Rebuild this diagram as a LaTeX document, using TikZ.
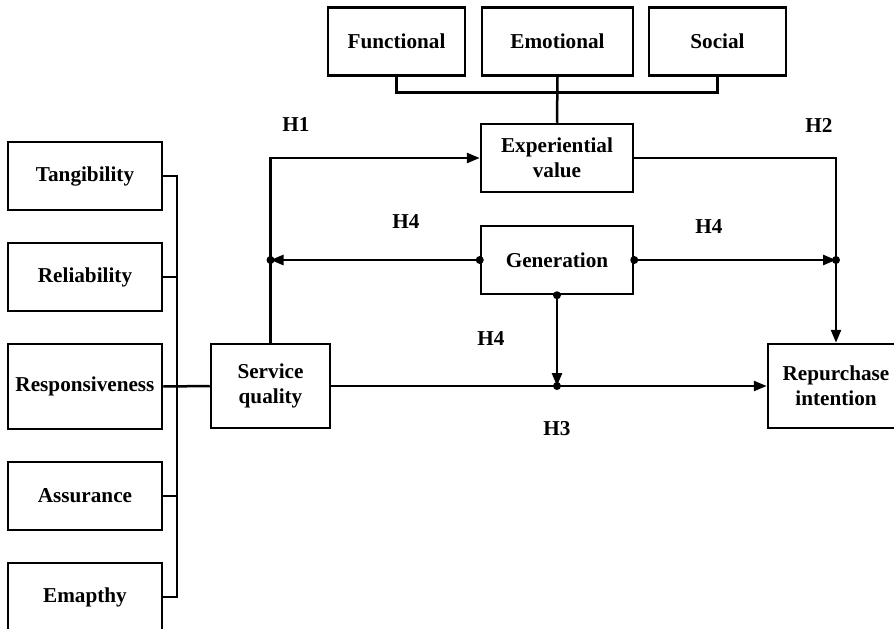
\documentclass[tikz,border=0pt]{standalone}
\usepackage{fontspec}
\setmainfont{Liberation Serif}
\usetikzlibrary{arrows.meta}

\begin{document}
\begin{tikzpicture} [x=1pt, y=-1pt, line width=2.5pt,
  box/.style={draw, align=center, inner sep=0pt, font=\fontsize{21.2}{25}\selectfont\bfseries},
  lab/.style={font=\fontsize{21.2}{25}\selectfont\bfseries},
  arr/.style={-{Triangle[length=13pt,width=10pt]}},
  dot/.style={circle, fill, inner sep=0pt, minimum size=8pt}]
 \clip (0,0) rectangle (894,629);
 \node [box, minimum width=154, minimum height=68] (tang) at (85,176) {Tangibility};
 \node [box, minimum width=154, minimum height=68] (rel) at (85,277) {Reliability};
 \node [box, minimum width=154, minimum height=85] (resp) at (85,386.5) {Responsiveness};
 \node [box, minimum width=154, minimum height=68] (assur) at (85,496) {Assurance};
 \node [box, minimum width=154, minimum height=68] (emp) at (85,597) {Emapthy};
 \node [box, minimum width=119, minimum height=84] (serv) at (270.5,386) {Service\\quality};
 \node [box, minimum width=137, minimum height=68] (func) at (396.5,41.5) {Functional};
 \node [box, minimum width=151, minimum height=68] (emo) at (557.5,41.5) {Emotional};
 \node [box, minimum width=137, minimum height=68] (soc) at (717.5,41.5) {Social};
 \node [box, minimum width=152, minimum height=68] (exp) at (557,158) {Experiential\\value};
 \node [box, minimum width=152, minimum height=68] (gen) at (557,260) {Generation};
 \node [box, minimum width=136, minimum height=84] (rep) at (836,386) {Repurchase\\intention};
 \node [lab] (h1) at (296,125) {H1};
 \node [lab] (h2) at (819,125) {H2};
 \node [lab] (h4a) at (406,222) {H4};
 \node [lab] (h4b) at (709,227) {H4};
 \node [lab] (h4c) at (491,339) {H4};
 \node [lab] (h3) at (557,429) {H3};
 \coordinate (btop) at (177,176);
 \coordinate (bbot) at (177,597);
 \draw (tang.east) -- (btop) -- (bbot) -- (emp.east);
 \draw (rel.east) -- (rel.east -| btop);
 \draw (assur.east) -- (assur.east -| btop);
 \draw (resp.east) -- (serv.west);
 \draw (func.south) -- ++(0,15.5) -| (soc.south);
 \draw (emo.south) -- (exp.north);
 \draw [arr] (serv.north) |- (exp.west);
 \draw [arr] (exp.east) -| (rep.north);
 \coordinate (gl) at (gen.west -| serv.north);
 \coordinate (gr) at (gen.east -| rep.north);
 \coordinate (mid) at (gen.south |- serv.east);
 \draw [arr] (gen.west) -- (gl);
 \draw [arr] (gen.east) -- (gr);
 \draw [arr] (serv.east) -- (rep.west);
 \draw [arr] (gen.south) -- (mid);
 \node [dot] at (gen.west) {};
 \node [dot] at (gen.east) {};
 \node [dot] at (gen.south) {};
 \node [dot] at (gl) {};
 \node [dot] at (gr) {};
 \node [dot] at (mid) {};
\end{tikzpicture}
\end{document}
